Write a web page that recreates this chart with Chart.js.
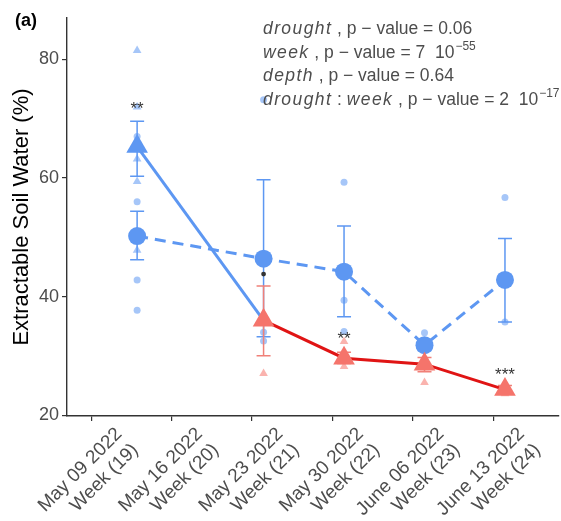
<!DOCTYPE html>
<html>
<head>
<meta charset="utf-8">
<script src="https://cdn.jsdelivr.net/npm/chart.js@4.4.1/dist/chart.umd.min.js"></script>
<style>
  html, body { margin: 0; padding: 0; background: #fff; overflow: hidden; }
  canvas { display: block; }
</style>
</head>
<body>
<canvas id="soilChart" width="561" height="521"></canvas>
<script>
// DATA (x = days counted from May 09 2022)
const sampleDays = [4, 15, 22, 29, 36];
const tickDays = [0, 7, 14, 21, 28, 35];
const tickLabels = [
  ['May 09 2022', 'Week (19)'],
  ['May 16 2022', 'Week (20)'],
  ['May 23 2022', 'Week (21)'],
  ['May 30 2022', 'Week (22)'],
  ['June 06 2022', 'Week (23)'],
  ['June 13 2022', 'Week (24)']
];
const yTicks = [20, 40, 60, 80];

// means +- error (triangles: solid line, circles: dashed line)
const triMean = [65.3, 36.0, 29.6, 28.6, 24.3];
const triLow = [60.3, 30.0, 28.7, 27.3, 23.6];
const triHigh = [69.6, 41.8, 30.6, 29.7, 25.0];
const circMean = [50.2, 46.4, 44.2, 31.8, 42.8];
const circLow = [46.2, 33.2, 36.6, 30.9, 35.7];
const circHigh = [54.4, 59.7, 51.9, 32.7, 49.8];

// raw observations
const rawTriDays = [4, 4, 4, 4, 4, 15, 15, 22, 22, 22, 22, 29, 29, 29, 36, 36];
const rawTriVals = [81.5, 72.0, 63.2, 59.4, 47.8, 27.0, 36.5, 32.4, 30.5, 29.2, 28.2, 29.5, 28.0, 25.5, 24.8, 23.6];
const rawCircDays = [4, 4, 4, 4, 15, 15, 15, 22, 22, 22, 29, 29, 36, 36];
const rawCircVals = [67.0, 56.0, 42.8, 37.7, 73.2, 34.0, 32.5, 59.3, 39.4, 34.1, 33.9, 31.0, 56.7, 35.7];

// significance marks
const sigDays = [4, 15, 22, 36];
const sigVals = [72.2, 43.8, 33.5, 27.4];
const sigText = ['**', '.', '**', '***'];

// model p-values
const notes = [
  [{ t: 'drought', it: true }, { t: ' , p \u2212 value = 0.06' }],
  [{ t: 'week', it: true }, { t: ' , p \u2212 value = 7  10' }, { t: '\u221255', sup: true }],
  [{ t: 'depth', it: true }, { t: ' , p \u2212 value = 0.64' }],
  [{ t: 'drought', it: true }, { t: ' : ' }, { t: 'week', it: true }, { t: ' , p \u2212 value = 2  10' }, { t: '\u221217', sup: true }]
];

// CORES
const BLUE = '#5D97F2';
const PINK = '#F5746B';
const RED = '#E01414';
const LIGHT_BLUE = 'rgba(93,151,242,0.55)';
const LIGHT_PINK = 'rgba(245,116,107,0.55)';
const FONT = '"Liberation Sans", Arial, sans-serif';

Chart.defaults.font.family = FONT;

const triColors = sampleDays.map((d, i) => i === 0 ? BLUE : PINK);
const rawTriColors = rawTriDays.map(d => d === sampleDays[0] ? LIGHT_BLUE : LIGHT_PINK);

const pts = (xs, ys) => xs.map((x, i) => ({ x: x, y: ys[i] }));

// error bars, drawn under the mean markers
const errorBars = {
  id: 'errorBars',
  beforeDatasetDraw(chart, args) {
    if (args.index !== 1) return;
    const { ctx, scales: { x, y } } = chart;
    ctx.save();
    ctx.lineWidth = 1.5;
    const draw = (lo, hi, colorOf) => {
      sampleDays.forEach((d, i) => {
        const px = x.getPixelForValue(d);
        const y1 = y.getPixelForValue(lo[i]);
        const y2 = y.getPixelForValue(hi[i]);
        ctx.strokeStyle = colorOf(i);
        ctx.beginPath();
        ctx.moveTo(px, y1); ctx.lineTo(px, y2);
        ctx.moveTo(px - 7, y1); ctx.lineTo(px + 7, y1);
        ctx.moveTo(px - 7, y2); ctx.lineTo(px + 7, y2);
        ctx.stroke();
      });
    };
    draw(circLow, circHigh, () => BLUE);
    draw(triLow, triHigh, i => i === 0 ? BLUE : '#F08078');
    ctx.restore();
  }
};

// stars + p-values + panel letter
const texts = {
  id: 'texts',
  afterDraw(chart) {
    const { ctx, chartArea, scales: { x, y } } = chart;
    ctx.save();
    ctx.fillStyle = '#333';
    ctx.textAlign = 'center';
    ctx.textBaseline = 'middle';
    ctx.font = '17px ' + FONT;
    sigDays.forEach((d, i) => {
      const px = x.getPixelForValue(d);
      const py = y.getPixelForValue(sigVals[i]);
      if (sigText[i] === '.') {
        ctx.beginPath();
        ctx.arc(px, py, 2.4, 0, Math.PI * 2);
        ctx.fill();
      } else {
        ctx.fillText(sigText[i], px, py + 4);
      }
    });

    ctx.textAlign = 'left';
    ctx.textBaseline = 'alphabetic';
    ctx.fillStyle = '#4D4D4D';
    const lineY = [34, 58, 81, 105];
    notes.forEach((parts, n) => {
      let cx = chartArea.left + 196;
      parts.forEach(p => {
        if (p.sup) {
          ctx.font = '12px ' + FONT;
          ctx.letterSpacing = '0px';
          ctx.fillText(p.t, cx + 1, lineY[n] - 8);
          cx += ctx.measureText(p.t).width + 1;
        } else {
          ctx.font = (p.it ? 'italic ' : '') + '17.5px ' + FONT;
          ctx.letterSpacing = p.it ? '1.4px' : '0px';
          ctx.fillText(p.t, cx, lineY[n]);
          cx += ctx.measureText(p.t).width;
        }
      });
    });
    ctx.letterSpacing = '0px';

    ctx.fillStyle = '#000';
    ctx.font = 'bold 18px ' + FONT;
    ctx.fillText('(a)', 15, 26);
    ctx.restore();
  }
};

new Chart(document.getElementById('soilChart'), {
  type: 'line',
  data: {
    datasets: [
      {
        data: pts(sampleDays, triMean),
        borderWidth: 3,
        segment: { borderColor: c => c.p0DataIndex === 0 ? BLUE : RED },
        borderColor: RED,
        pointStyle: 'triangle',
        pointRadius: 12.5,
        pointBorderWidth: 0,
        pointBackgroundColor: triColors,
        pointBorderColor: triColors,
        order: 0
      },
      {
        data: pts(sampleDays, circMean),
        borderWidth: 3,
        borderColor: BLUE,
        borderDash: [11, 7],
        pointStyle: 'circle',
        pointRadius: 9,
        pointBorderWidth: 0,
        pointBackgroundColor: BLUE,
        pointBorderColor: BLUE,
        order: 1
      },
      {
        data: pts(rawTriDays, rawTriVals),
        showLine: false,
        pointStyle: 'triangle',
        pointRadius: 5,
        pointBorderWidth: 0,
        pointBackgroundColor: rawTriColors,
        pointBorderColor: rawTriColors,
        order: 2
      },
      {
        data: pts(rawCircDays, rawCircVals),
        showLine: false,
        pointStyle: 'circle',
        pointRadius: 3.5,
        pointBorderWidth: 0,
        pointBackgroundColor: LIGHT_BLUE,
        pointBorderColor: LIGHT_BLUE,
        order: 3
      }
    ]
  },
  options: {
    responsive: false,
    animation: false,
    devicePixelRatio: 1,
    events: [],
    layout: { autoPadding: false, padding: { top: 18, right: 2, left: 0, bottom: 0 } },
    plugins: { legend: { display: false }, tooltip: { enabled: false } },
    scales: {
      x: {
        type: 'linear',
        min: -2.1,
        max: 40.7,
        afterBuildTicks: s => { s.ticks = tickDays.map(v => ({ value: v })); },
        afterFit: s => { s.height = 105; s.paddingLeft = 0; s.paddingRight = 0; },
        grid: { drawOnChartArea: false, color: '#333', lineWidth: 1.2, tickLength: 5 },
        border: { color: '#333', width: 1.4 },
        ticks: {
          autoSkip: false,
          minRotation: 45,
          maxRotation: 45,
          labelOffset: 28,
          padding: 2,
          color: '#4D4D4D',
          font: { size: 19 },
          callback: (v, i) => tickLabels[i]
        }
      },
      y: {
        min: 19.85,
        max: 87.0,
        afterBuildTicks: s => { s.ticks = yTicks.map(v => ({ value: v })); },
        afterFit: s => { s.width = 67; s.paddingTop = 0; s.paddingBottom = 0; },
        grid: { drawOnChartArea: false, color: '#333', lineWidth: 1.2, tickLength: 5 },
        border: { color: '#333', width: 1.4 },
        ticks: { color: '#4D4D4D', padding: 3, font: { size: 18 } },
        title: {
          display: true,
          text: 'Extractable Soil Water (%)',
          color: '#000',
          font: { size: 22 },
          padding: { top: 9, bottom: 0 }
        }
      }
    }
  },
  plugins: [errorBars, texts]
});
</script>
</body>
</html>
